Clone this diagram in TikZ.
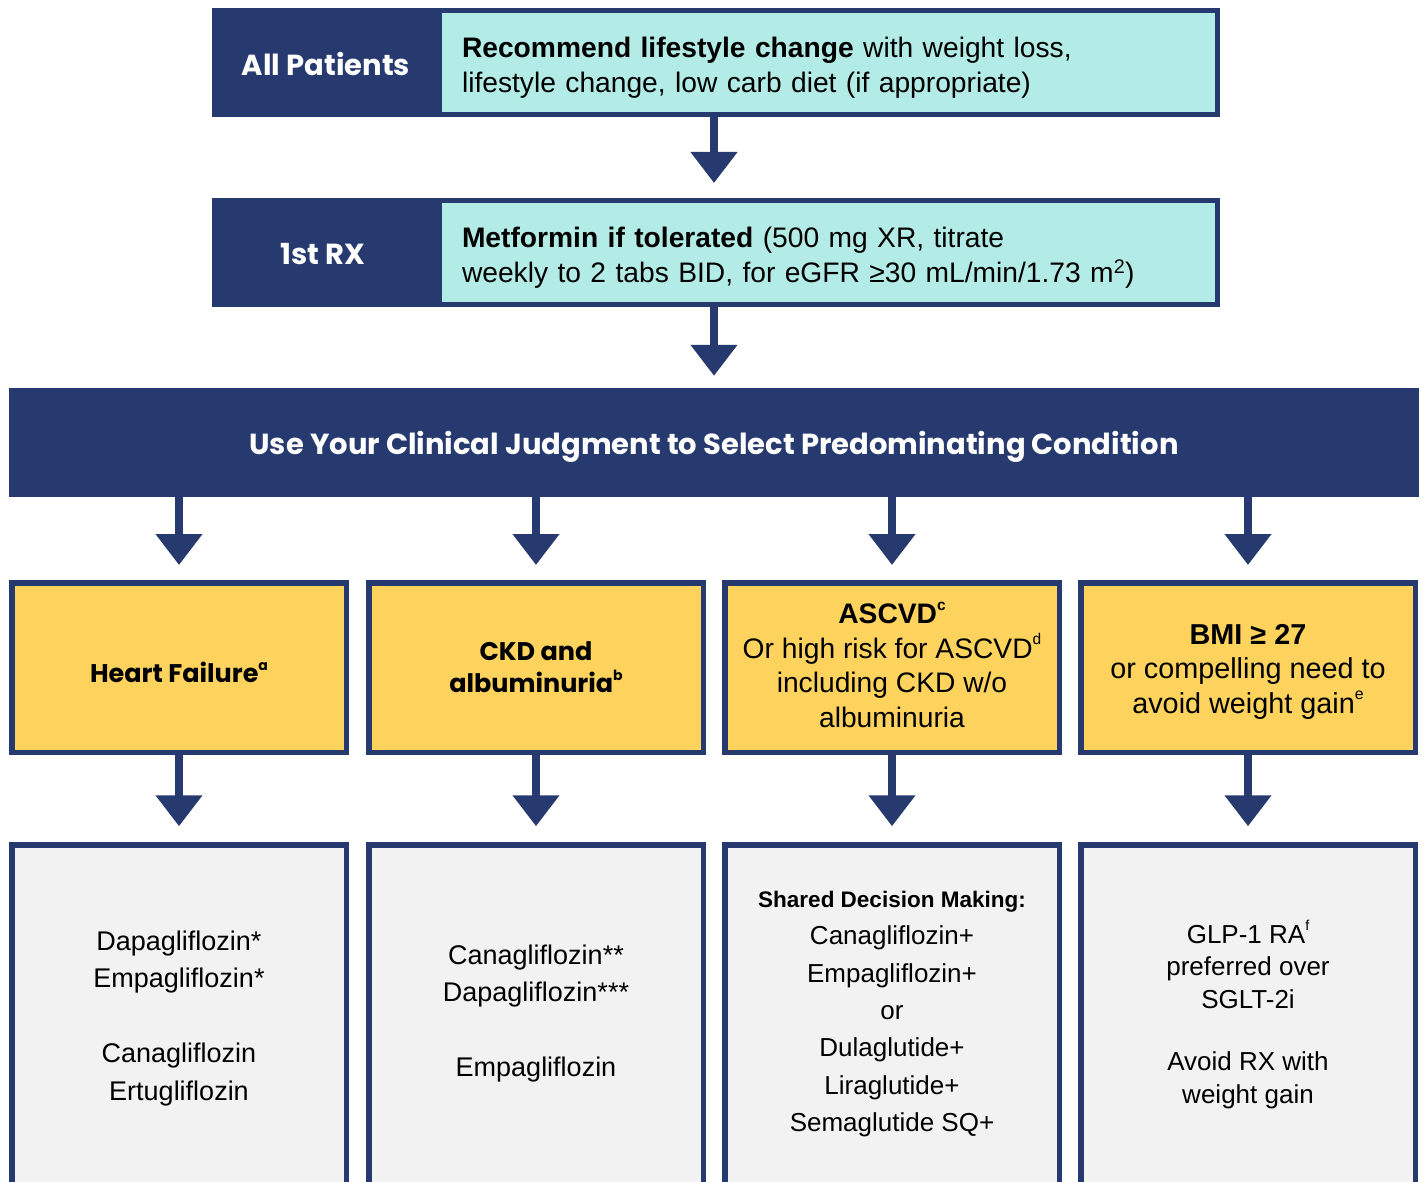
\documentclass[tikz,border=0pt]{standalone}
\usepackage{fontspec}
\usepackage{graphicx}
\setmainfont{Liberation Sans}
\newfontfamily\headfont{Poppins}
\usetikzlibrary{arrows.meta}
\definecolor{navy}{HTML}{263A70}
\definecolor{cyanfill}{HTML}{B3ECE6}
\definecolor{yel}{HTML}{FDD35E}
\definecolor{grayfill}{HTML}{F2F2F2}
\newcommand{\sups}[1]{\raisebox{0.48em}{\scalebox{0.55}{#1}}}
\begin{document}
\begin{tikzpicture}[x=1pt,y=-1pt,
  darkbox/.style={fill=navy, draw=none, inner sep=0pt},
  darktext/.style={text=white, align=center, inner sep=0pt,
    font=\headfont\bfseries\fontsize{29}{34}\selectfont},
  cyanbox/.style={fill=cyanfill, draw=navy, line width=5pt, minimum width=778pt,
    minimum height=104pt, inner sep=0pt},
  cyantext/.style={text width=733pt, align=left, inner sep=0pt,
    font=\fontsize{28.2}{35}\selectfont},
  ybox/.style={fill=yel, draw=navy, line width=5.5pt, minimum width=334.5pt,
    minimum height=169.5pt, inner sep=0pt},
  ytext/.style={align=center, inner sep=0pt},
  gbox/.style={fill=grayfill, draw=navy, line width=5.5pt, minimum width=334.5pt,
    minimum height=350pt, inner sep=0pt},
  gtext/.style={align=center, inner sep=0pt, font=\fontsize{27}{37.5}\selectfont},
  arr/.style={draw=navy, line width=8pt, -{Triangle[width=45pt,length=31pt]}},
]
\clip (0,0) rectangle (1426,1182);
\fill[white] (0,0) rectangle (1426,1182);

% row 1
\node[darkbox, minimum width=225pt, minimum height=109pt] (h1) at (324.5,62.5) {};
\node[darktext] (h1t) at (326,64.5) {All Patients};
\node[cyanbox] (c1) at (828.5,62.5) {};
\node[cyantext] (c1t) at (828.5,67.5) {\textbf{Recommend lifestyle change} with weight loss,\\lifestyle change, low carb diet (if appropriate)};
% row 2
\node[darkbox, minimum width=225pt, minimum height=109pt] (h2) at (324.5,252.5) {};
\node[darktext] (h2t) at (323,254.5) {1st RX};
\node[cyanbox] (c2) at (828.5,252.5) {};
\node[cyantext] (c2t) at (828.5,257.5) {\textbf{Metformin if tolerated} (500 mg XR, titrate\\weekly to 2 tabs BID, for eGFR ≥30 mL/min/1.73 m\textsuperscript{2})};
% banner
\node[darkbox, minimum width=1410pt, minimum height=109pt] (banner) at (714,442.5) {};
\node[darktext] (bt) at (714,447) {Use Your Clinical Judgment to Select Predominating Condition};

% condition boxes
\node[ybox] (y1) at (179,667.5) {};
\node[ybox] (y2) at (536,667.5) {};
\node[ybox] (y3) at (892,667.5) {};
\node[ybox] (y4) at (1248,667.5) {};
\node[ytext, font=\headfont\bfseries\fontsize{25.5}{32}\selectfont] (y1t) at (179,672.5) {Heart Failure\sups{a}};
\node[ytext, font=\headfont\bfseries\fontsize{25.5}{32}\selectfont] (y2t) at (536,667.5) {CKD and\\albuminuria\sups{b}};
\node[ytext, font=\fontsize{28.2}{34.5}\selectfont] (y3t) at (892,664.5) {\textbf{ASCVD\sups{c}}\\Or high risk for ASCVD\sups{d}\\including CKD w/o\\albuminuria};
\node[ytext, font=\fontsize{28.8}{34.5}\selectfont] (y4t) at (1248,671.5) {\textbf{BMI ≥ 27}\\or compelling need to\\avoid weight gain\sups{e}};

% treatment boxes
\node[gbox] (g1) at (179,1020) {};
\node[gbox] (g2) at (536,1020) {};
\node[gbox] (g3) at (892,1020) {};
\node[gbox] (g4) at (1248,1020) {};
\node[gtext] (t1) at (179,1018.5) {Dapagliflozin*\\Empagliflozin*\\[37.5pt]Canagliflozin\\Ertugliflozin};
\node[gtext] (t2) at (536,1013.5) {Canagliflozin**\\Dapagliflozin***\\[37.5pt]Empagliflozin};
\node[gtext, font=\fontsize{26}{37.3}\selectfont] (t3) at (892,1014) {{\fontsize{22.5}{37.3}\selectfont\bfseries Shared Decision Making:}\\Canagliflozin+\\Empagliflozin+\\or\\Dulaglutide+\\Liraglutide+\\Semaglutide SQ+};
\node[gtext, font=\fontsize{26}{32.5}\selectfont] (t4) at (1248,1014.5) {GLP-1 RA\sups{f}\\preferred over\\SGLT-2i\\[30pt]Avoid RX with\\weight gain};

% connectors
\draw[arr, shorten >=15pt] (c1.south -| banner) -- (c2.north -| banner);
\draw[arr, shorten >=12pt] (c2.south -| banner) -- (banner.north);
\foreach \i in {1,2,3,4}{
  \draw[arr, shorten >=15pt] (banner.south -| y\i) -- (y\i.north);
  \draw[arr, shorten >=16pt] (y\i.south) -- (g\i.north);
}
\end{tikzpicture}
\end{document}
